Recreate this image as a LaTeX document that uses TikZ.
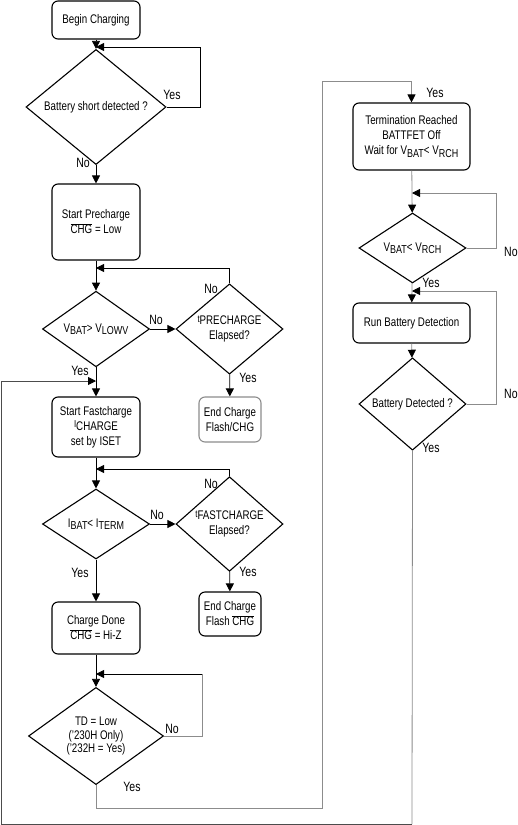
\documentclass[tikz,border=0pt]{standalone}
\usepackage{fontspec}
\setmainfont{Liberation Sans}[FakeStretch=0.78]
\usetikzlibrary{shapes.geometric,arrows.meta}
\newcommand{\lowsub}[2]{#1\raisebox{-0.35ex}{\fontsize{11.5}{13}\selectfont #2}}
\newcommand{\uppre}[2]{\raisebox{0.35ex}{\fontsize{10}{11}\selectfont #1}#2}
\newcommand{\barred}[1]{$\overline{\mbox{#1}}$}
\begin{document}
\begin{tikzpicture}[x=1pt,y=-1pt,font=\fontsize{12.5}{15}\selectfont,
	box/.style={draw,rounded corners=6pt,align=center,line width=1.1pt,inner sep=0pt},
	decision/.style={draw,diamond,align=center,line width=1.1pt,inner sep=0pt},
	arr/.style={line width=0.8pt,-{Triangle[length=8pt,width=8pt,color=black]}},
	faint/.style={line width=0.8pt,draw=black!45},
	lbl/.style={inner sep=0pt,font=\fontsize{13.5}{15}\selectfont}]
	\useasboundingbox (0,0) rectangle (517,825);
	% left column
	\node[box,minimum width=88pt,minimum height=38pt] (begin) at (96,20) {Begin Charging};
	\node[decision,minimum width=140pt,minimum height=93pt] (short) at (96,107) {Battery short detected ?};
	\node[box,minimum width=88pt,minimum height=76pt] (pre) at (96,222) {Start Precharge\\\barred{CHG} = Low};
	\node[decision,minimum width=107pt,minimum height=70pt] (lowv) at (96,329) {\lowsub{V}{BAT}> \lowsub{V}{LOWV}};
	\node[decision,minimum width=107pt,minimum height=70pt] (tpre) at (229.5,329) {\uppre{t}{PRECHARGE}\\Elapsed?};
	\node[box,draw=black!45,minimum width=62pt,minimum height=45pt] (endpre) at (230,419.5) {End Charge\\Flash/CHG};
	\node[box,minimum width=88pt,minimum height=60pt] (fast) at (96,427) {Start Fastcharge\\\uppre{I}{CHARGE}\\set by ISET};
	\node[decision,minimum width=107pt,minimum height=70pt] (term) at (96,524) {\lowsub{I}{BAT}< \lowsub{I}{TERM}};
	\node[decision,minimum width=107pt,minimum height=70pt] (tfast) at (229.5,524) {\uppre{t}{FASTCHARGE}\\Elapsed?};
	\node[box,minimum width=62pt,minimum height=44pt] (endfast) at (230,614) {End Charge\\Flash \barred{CHG}};
	\node[box,minimum width=88pt,minimum height=52pt] (done) at (96,628) {Charge Done\\\barred{CHG} = Hi-Z};
	\node[decision,minimum width=135pt,minimum height=78pt,font=\fontsize{12.5}{13.5}\selectfont] (td) at (96,736) {TD = Low\\('230H Only)\\('232H = Yes)};
	% right column
	\node[box,minimum width=117pt,minimum height=67pt] (termr) at (411.5,136.5) {Termination Reached\\BATTFET Off\\Wait for \lowsub{V}{BAT}< \lowsub{V}{RCH}};
	\node[decision,minimum width=107pt,minimum height=70pt] (rch) at (412.5,248) {\lowsub{V}{BAT}< \lowsub{V}{RCH}};
	\node[box,minimum width=117pt,minimum height=40pt] (run) at (411.5,323) {Run Battery Detection};
	\node[decision,minimum width=107pt,minimum height=70pt] (det) at (412.5,404) {Battery Detected ?};
	% joints
	\coordinate (j1) at (96,47);
	\coordinate (j2) at (96,268);
	\coordinate (j3) at (96,381);
	\coordinate (j4) at (96,469);
	\coordinate (j5) at (96,674);
	\coordinate (j6) at (412,193);
	\coordinate (j7) at (412,291);
	\coordinate (c5) at (202,674);
	\coordinate (c6) at (322,81);
	\coordinate (c7) at (1,824);
	\coordinate (c8) at (412,824);
	% connectors
	\draw[arr] (begin) -- (short);
	\draw[arr] (short.east) -- ++(34,0) |- (j1);
	\draw[arr] (short) -- (pre);
	\draw[arr] (pre) -- (lowv);
	\draw[arr] (lowv) -- (tpre);
	\draw[arr] (tpre.north) |- (j2);
	\draw[arr] (tpre) -- (endpre);
	\draw[arr] (lowv) -- (fast);
	\draw[arr] (fast) -- (term);
	\draw[arr] (term) -- (tfast);
	\draw[arr] (tfast.north) |- (j4);
	\draw[arr] (tfast) -- (endfast);
	\draw[arr] (term) -- (done);
	\draw[arr] (done) -- (td);
	\draw[faint] (td.east) -| (c5);
	\draw[arr] (c5) -- (j5);
	\draw[faint] (td.south) -- ++(0,23) -| (c6);
	\draw[arr,faint] (c6) -| (termr.north);
	\draw[arr,faint] (termr) -- (rch);
	\draw[arr,faint] (rch.east) -- ++(30,0) |- (j6);
	\draw[arr,faint] (rch) -- (run);
	\draw[arr,faint] (run) -- (det);
	\draw[arr,faint] (det.east) -- ++(30,0) |- (j7);
	\draw[faint] (det.south) -- (c8);
	\draw[arr,draw=black!70] (c8) -- (c7) |- (j3);
	% labels
	\node[lbl] (yshort) at (172,95) {Yes};
	\node[lbl] (nshort) at (83,163) {No};
	\node[lbl] (nlowv) at (156,320) {No};
	\node[lbl] (ntpre) at (211,289) {No};
	\node[lbl] (ytpre) at (248,378) {Yes};
	\node[lbl] (ylowv) at (80,371) {Yes};
	\node[lbl] (nterm) at (157,515) {No};
	\node[lbl] (ntfast) at (211,484) {No};
	\node[lbl] (ytfast) at (248,572) {Yes};
	\node[lbl] (yterm) at (80,573) {Yes};
	\node[lbl] (ntd) at (172,729) {No};
	\node[lbl] (ytd) at (132,787) {Yes};
	\node[lbl] (ytermr) at (435,93) {Yes};
	\node[lbl,anchor=west] (nrch) at (504,252) {No};
	\node[lbl] (yrch) at (431,283) {Yes};
	\node[lbl,anchor=west] (ndet) at (504,394) {No};
	\node[lbl] (ydet) at (431,448) {Yes};
\end{tikzpicture}
\end{document}
